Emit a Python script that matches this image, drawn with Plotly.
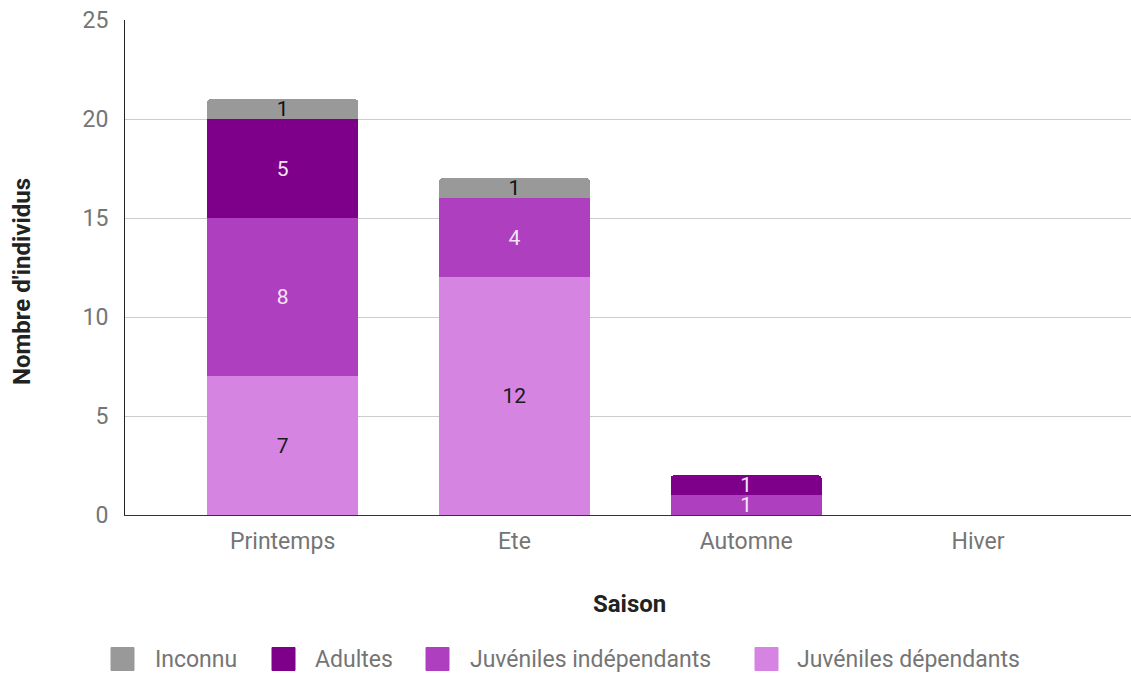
import plotly.graph_objects as go

saisons = ["Printemps", "Ete", "Automne", "Hiver"]
juv_dependants = [7, 12, 0, 0]
juv_independants = [8, 4, 1, 0]
adultes = [5, 0, 1, 0]
inconnu = [1, 1, 0, 0]

# Stacked from the bottom up: (name, values, fill colour, label colour)
series = [
    ("Juvéniles dépendants", juv_dependants, "#d684e2", "#1a1a1a"),
    ("Juvéniles indépendants", juv_independants, "#ae40c0", "#f4e4f6"),
    ("Adultes", adultes, "#7e008a", "#f4e4f6"),
    ("Inconnu", inconnu, "#999999", "#111111"),
]

W, H = 1131, 675
L, R, T, B = 125, 0, 20, 160
PW, PH = W - L - R, H - T - B


def px_x(x):
    return (x - L) / PW


def px_y(y):
    return (H - B - y) / PH


fig = go.Figure()
for name, vals, color, txtcolor in series:
    fig.add_trace(go.Bar(
        x=list(range(len(saisons))),
        y=vals,
        name=name,
        marker=dict(color=color, line=dict(width=0)),
        text=[str(v) if v else "" for v in vals],
        textposition="inside",
        insidetextanchor="middle",
        constraintext="none",
        textangle=0,
        textfont=dict(family="Roboto", size=21, color=txtcolor),
        width=0.65,
        hoverinfo="skip",
        showlegend=False,
    ))

# Legend row beneath the chart: rounded swatch + label for each series
legend_items = [
    ("Inconnu", "#999999", 111, 153),
    ("Adultes", "#7e008a", 272, 313),
    ("Juvéniles indépendants", "#ae40c0", 426, 468),
    ("Juvéniles dépendants", "#d684e2", 755, 795),
]
shapes = []
annotations = []
sw, cy = 23, 659
for label, color, sx, tx in legend_items:
    x0, x1 = px_x(sx), px_x(sx + sw)
    y0, y1 = px_y(cy + sw / 2), px_y(cy - sw / 2)
    shapes.append(dict(
        type="rect", xref="paper", yref="paper",
        x0=x0, x1=x1, y0=y0, y1=y1,
        fillcolor=color, line=dict(color=color, width=1), layer="above",
    ))
    annotations.append(dict(
        text=label, xref="paper", yref="paper",
        x=px_x(tx), y=px_y(cy), xanchor="left", yanchor="middle",
        showarrow=False,
        font=dict(family="Roboto", size=23, color="#757575"),
    ))

# Axis titles
annotations.append(dict(
    text="<b>Saison</b>", xref="paper", yref="paper",
    x=px_x(629), y=px_y(604), xanchor="center", yanchor="middle",
    showarrow=False, font=dict(family="Roboto", size=24, color="#222222"),
))
annotations.append(dict(
    text="<b>Nombre d'individus</b>", xref="paper", yref="paper",
    x=px_x(22), y=px_y(282), xanchor="center", yanchor="middle",
    textangle=-90,
    showarrow=False, font=dict(family="Roboto", size=24, color="#222222"),
))

fig.update_layout(
    barmode="stack",
    barcornerradius=3,
    width=W,
    height=H,
    margin=dict(l=L, r=R, t=T, b=B),
    paper_bgcolor="white",
    plot_bgcolor="white",
    font=dict(family="Roboto", size=22, color="#757575"),
    showlegend=False,
    shapes=shapes,
    annotations=annotations,
    xaxis=dict(
        tickmode="array",
        tickvals=list(range(len(saisons))),
        ticktext=saisons,
        range=[-0.68, 3.66],
        showgrid=False,
        showline=True,
        linecolor="#333333",
        linewidth=1,
        ticks="",
        ticklabelstandoff=5,
        tickfont=dict(family="Roboto", size=23, color="#757575"),
        fixedrange=True,
    ),
    yaxis=dict(
        range=[0, 25],
        tickvals=[0, 5, 10, 15, 20, 25],
        showgrid=True,
        gridcolor="#cccccc",
        gridwidth=1,
        zeroline=False,
        showline=True,
        linecolor="#222222",
        linewidth=1,
        ticks="",
        ticklabelstandoff=11,
        tickfont=dict(family="Roboto", size=23, color="#757575"),
        fixedrange=True,
    ),
)

fig.write_html("out.html")
